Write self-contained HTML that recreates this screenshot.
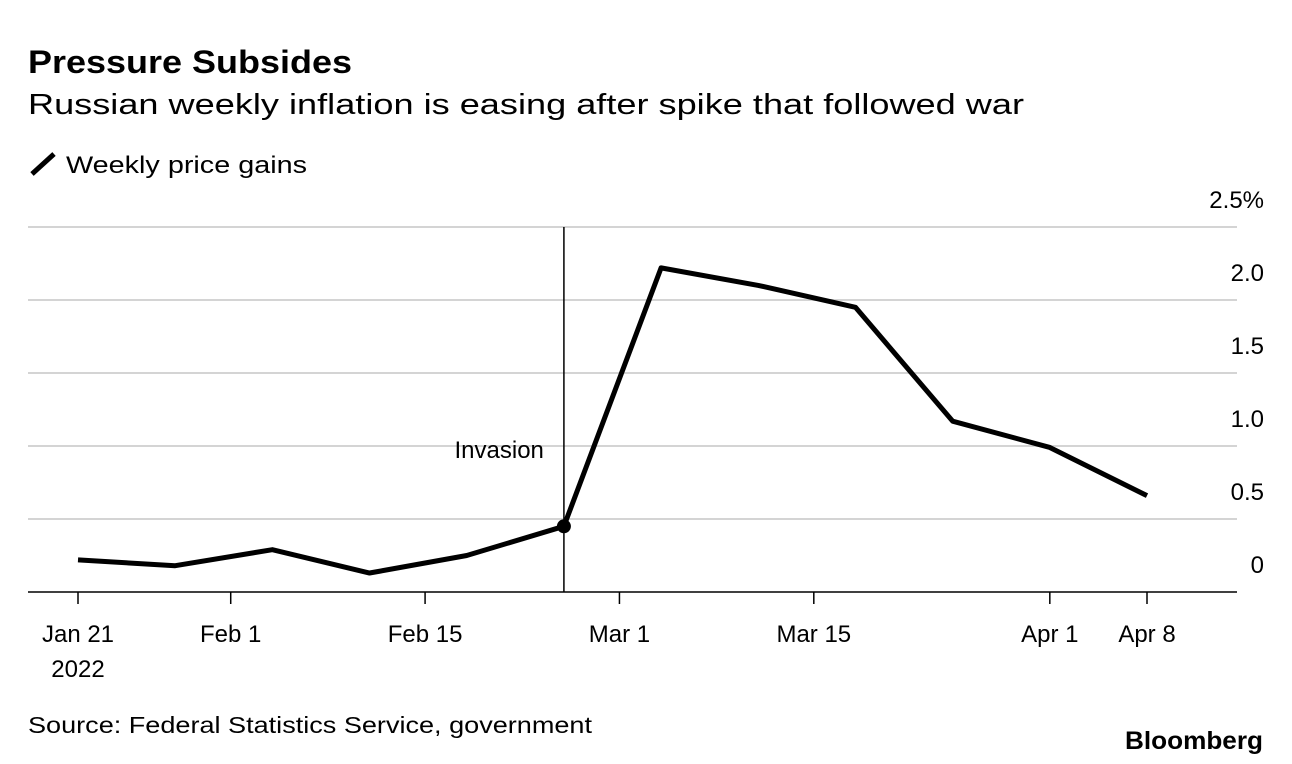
<!DOCTYPE html>
<html><head><meta charset="utf-8"><style>
body{margin:0;background:#fff;width:1292px;height:764px;overflow:hidden;font-family:"Liberation Sans",sans-serif;color:#000}
svg{position:absolute;left:0;top:0}
</style></head><body>
<svg width="1292" height="764">
<text x="28" y="73" font-size="32" font-weight="bold" textLength="324" lengthAdjust="spacingAndGlyphs">Pressure Subsides</text>
<text x="28" y="114" font-size="29" textLength="996" lengthAdjust="spacingAndGlyphs">Russian weekly inflation is easing after spike that followed war</text>
<line x1="32" y1="174" x2="54" y2="154" stroke="#000" stroke-width="5"/>
<text x="66" y="173" font-size="24" textLength="241" lengthAdjust="spacingAndGlyphs">Weekly price gains</text>
<g id="grid"></g><g id="xaxis"></g><g id="series"></g>
<text x="28" y="733" font-size="23" textLength="564" lengthAdjust="spacingAndGlyphs">Source: Federal Statistics Service, government</text>
<text x="1263" y="749" font-size="25" font-weight="bold" text-anchor="end" textLength="138" lengthAdjust="spacingAndGlyphs">Bloomberg</text>
</svg>
<script>
const dayOffsets=[0,7,14,21,28,35,42,49,56,63,70,77];
const values=[0.22,0.18,0.29,0.13,0.25,0.45,2.22,2.10,1.95,1.17,0.99,0.66];
const yTicks=[0,0.5,1.0,1.5,2.0,2.5];
const yTickLabels=["0","0.5","1.0","1.5","2.0","2.5%"];
const xTickDays=[0,11,25,39,53,70,77];
const xTickLabels=["Jan 21","Feb 1","Feb 15","Mar 1","Mar 15","Apr 1","Apr 8"];
const invasionDay=35;
const NS="http://www.w3.org/2000/svg";
const x=d=>78+d*(1147-78)/77;
const y=v=>592-v*146;
function mk(tag,attrs,parent,text){const e=document.createElementNS(NS,tag);for(const k in attrs)e.setAttribute(k,attrs[k]);if(text!==undefined)e.textContent=text;document.getElementById(parent).appendChild(e);return e;}
yTicks.forEach((t,i)=>{
 const l=mk('line',{x1:28,x2:1237,y1:y(t),y2:y(t),stroke:t===0?'#000':'#d4d4d4','stroke-width':t===0?1.5:2},'grid');
 
 
 const tx=mk('text',{x:1264,y:y(t)-19,'font-size':24,'text-anchor':'end'},'grid',yTickLabels[i]);
 
 
});
xTickDays.forEach((d,i)=>{
 const l=mk('line',{x1:x(d),x2:x(d),y1:592,y2:604,stroke:'#000','stroke-width':1.5},'xaxis');
 
 
 const tx=mk('text',{x:x(d),y:642,'font-size':24,'text-anchor':'middle'},'xaxis',xTickLabels[i]);
 
 
});
const yr=mk('text',{x:x(0),y:677,'font-size':24,'text-anchor':'middle'},'xaxis','2022');


const iv=mk('line',{x1:x(invasionDay),x2:x(invasionDay),y1:227,y2:592,stroke:'#000','stroke-width':1.5},'series');


const it=mk('text',{x:x(invasionDay)-20,y:458,'font-size':24,'text-anchor':'end'},'series','Invasion');


const p=mk('polyline',{points:dayOffsets.map((d,i)=>x(d)+','+y(values[i])).join(' '),fill:'none',stroke:'#000','stroke-width':5,'stroke-linejoin':'round'},'series');


const idx=dayOffsets.indexOf(invasionDay);
const dot=mk('circle',{cx:x(invasionDay),cy:y(values[idx]),r:7,fill:'#000'},'series');


</script>
</body></html>
